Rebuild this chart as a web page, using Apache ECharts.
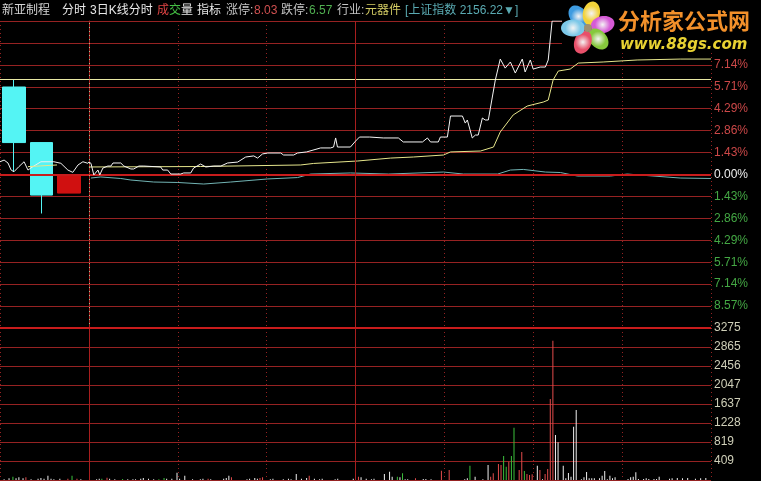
<!DOCTYPE html>
<html><head><meta charset="utf-8">
<script src="https://cdn.jsdelivr.net/npm/echarts/dist/echarts.min.js"></script>
<style>html,body{margin:0;padding:0;background:#000;}#c{width:761px;height:481px;}</style>
</head><body><div id="c"></div>
<script>
// ---------------- DATA ----------------
// intraday minutes (0..240) and % change vs previous close 7.30 (limits 8.03 / 6.57)
const priceMin = [0,0.8,1.9,3.5,4.2,5.4,7.3,8.5,9.3,12.3,13.5,16.2,17.3,19.3,21.2,27.7,28.5,30.4,31.6,35.4,36.6,39.3,40.4,43.1,45.1,48.2,50.9,53.5,57.4,60.5,63.6,65.1,67.0,69.0,74.0,75.1,79.0,80.5,84.0,89.4,93.2,94.4,95.2,95.9,100.9,102.9,104.4,108.3,113.6,119.4,121.3,128.7,130.6,131.8,134.8,135.6,138.3,139.5,144.1,145.2,146.0,147.9,149.1,150.2,151.8,152.9,154.1,154.9,156.8,158.7,160.6,162.6,164.5,167.2,168.3,170.3,171.4,174.1,176.1,177.2,178.7,240];
const pricePct = [0.81,0.73,-0.03,0.29,-0.03,0.42,0.55,0.55,0.75,0.75,0.55,0.36,0.36,0.55,0.55,0.49,0.29,0.29,0.03,0.03,0.10,0.10,0.42,0.68,0.49,0.55,0.55,0.75,0.81,1.14,1.21,1.07,1.34,1.40,1.40,1.27,1.27,1.40,1.47,1.73,1.73,1.79,2.38,1.79,1.79,2.18,2.44,2.44,2.38,2.38,2.12,2.12,2.38,2.12,2.12,2.44,2.44,3.81,3.81,3.35,3.55,2.38,2.57,2.57,3.68,3.55,3.55,4.33,6.16,7.52,6.93,7.33,6.61,7.52,6.68,7.46,6.87,7.00,7.00,7.46,10.00,10.00];
const avgMin = [0,43.1,81.7,86.7,103.7,116.4,125.2,136.8,139.5,151.1,156.1,158.7,163.7,169.1,175.3,177.2,179.1,181.1,185.7,188.8,198.4,211.5,228.1,240];
const avgPct = [0.49,0.52,0.62,0.72,0.88,1.07,1.14,1.27,1.47,1.53,1.79,2.77,3.88,4.46,4.72,4.85,6.16,6.74,6.87,7.26,7.33,7.46,7.52,7.52];
const idxMin = [0.8,4.6,12.3,16.2,25.0,34.3,44.3,54.7,69.0,80.5,85.5,100.9,115.6,136.8,144.5,157.7,162.6,167.6,176.1,181.9,188.5,201.2,207.7,215.4,228.1,240];
const idxPct = [-0.23,-0.16,-0.26,-0.36,-0.49,-0.52,-0.62,-0.49,-0.29,-0.20,0.03,0.10,0.03,0.16,0.03,0.03,0.29,0.33,0.16,0.13,-0.10,-0.10,0.03,-0.07,-0.23,-0.26];
// compressed 3-day line (negative minutes = previous-days strip)
const miniMin = [-34.29,-32.7,-31.2,-30.0,-28.9,-27.0,-25.0,-23.5,-21.6,-18.5,-13.5,-10.8,-8.1,-6.2,-4.2,-2.3,-0.4,0];
const miniPct = [0.83,0.94,0.75,0.29,0.18,0.51,0.83,0.29,0.51,0.83,0.83,0.73,0.29,0.14,0.62,0.83,0.73,0.81];
const miniAvgMin = [-23.5,-18.5,-12.3];
const miniAvgPct = [0.51,0.56,0.62];
const prevHighPct = 6.19;
// 3-day candles (% vs prev close)
const candleDays = ['D-3','D-2','D-1'];
const candleOpen = [5.70, 2.08, -1.21];
const candleClose = [2.08, -1.34, 0.00];
const candleLow = [0.18, -2.54, -1.21];
const candleHigh = [6.19, 2.08, 0.00];
// volume
const volMin = [-32.7,-30.8,-29.3,-28.1,-27.0,-25.4,-24.3,-22.3,-19.6,-18.5,-17.3,-15.8,-14.6,-13.5,-11.2,-8.1,-6.5,-4.6,-3.1,
3,4,5,7,8,10,13,15,17,18,20,21,23,25,27,29,30,32,34,35,37,40,43,44,46,47,52,53,54,55,61,62,64,65,66,67,70,71,75,77,78,80,82,84,85,87,89,90,95,96,102,104,105,107,109,110,
114,116,117,119,120,121,122,123,126,129,130,132,136,139,145,146,147,149,152,154,155,156,158,159,160,161,162,163,164,166,167,168,169,170,171,173,174,175,176,177,178,179,180,181,183,184,185,186,187,188,190,191,192,193,194,195,197,198,199,200,201,202,203,208,209,210,211,212,214,215,216,218,219,220,224,225,227,229,231,234,236,238];
const volVal = [15,36,72,36,57,36,57,15,28,43,28,93,28,15,28,28,93,28,15,
15,28,28,50,28,15,22,15,15,15,28,43,28,15,15,43,28,28,158,28,93,15,15,28,28,15,28,43,93,57,15,28,43,28,43,57,15,28,15,28,15,129,28,43,93,28,15,28,15,28,28,72,57,28,15,28,
129,180,72,72,57,144,15,15,36,22,22,15,201,216,15,36,309,72,15,323,72,144,345,323,517,287,395,517,1127,216,603,194,129,108,122,309,216,15,129,237,1746,3002,970,812,309,36,151,72,1149,1509,15,57,172,36,36,36,36,93,194,15,93,36,57,22,57,72,165,22,22,36,22,22,22,72,28,36,43,36,43,28,36,43];
const volDir = ('wwgwwwrwwwwwwwwrgrw' +
  'wwgrwwgwwwwwwwggwwwwwwwwrwwwwrwwwwrrwwwwwwwwrwwwwwwrwwww' +
  'wwwgwgwwrwwwrrwwgwwwrrrrggrggrrgrrrwrwrrrrwwwwwwwwwwwwwwwwwwwwwwwwwwwwwwwwwwwwwwww').split('');
const volTickLabels = ['', '409', '819', '1228', '1637', '2047', '2456', '2865', '3275'];
const titleParts = [
  ['新亚制程', 2, '#d4d4d4'], ['分时', 62, '#e8e8e8'], ['3日K线分时', 90, '#e8e8e8'],
  ['成', 157, '#e04444'], ['交', 169, '#44c044'], ['量', 181, '#e8e8e8'], ['指标', 197, '#e8e8e8'],
  ['涨停:', 226, '#c4c4c4'], ['8.03', 254, '#d05050'], ['跌停:', 281, '#c4c4c4'], ['6.57', 309, '#50b050'],
  ['行业:', 337, '#c4c4c4'], ['元器件', 365, '#d4cc64'], ['[上证指数 2156.22▼]', 405, '#5aaab2']
];

// ---------------- CHART ----------------
const SEC = 240 / 7;
const GRID_RED = '#962222';
const pairs = (xs, ys) => xs.map((x, i) => [x, ys[i]]);
const dirColor = { r: '#e44c4c', g: '#3cc03c', w: '#f0f0f0' };
const FONT = "'Liberation Sans', Arial, 'Noto Sans CJK SC', sans-serif";

const chart = echarts.init(document.getElementById('c'), null, { width: 761, height: 481 });

const xCommon = (gi) => ({
  type: 'value', gridIndex: gi, min: -SEC, max: 240, interval: SEC,
  axisLine: { show: false }, axisTick: { show: false }, axisLabel: { show: false },
  splitLine: { show: true, lineStyle: { color: GRID_RED, type: [1, 3], width: 1 } }
});

const graphic = [];
titleParts.forEach(p => graphic.push({
  type: 'text', x: p[1], y: 11, z: 100,
  style: { text: p[0], fill: p[2], font: "12px 'Liberation Sans','Noto Sans CJK SC',sans-serif", textVerticalAlign: 'middle' }
}));
// watermark logo
graphic.push({ type: 'rect', z: 99, shape: { x: 562, y: 1, width: 198, height: 52 }, style: { fill: '#000' } });
[[-129, '#3d9be0'], [-77, '#f2d23a'], [-13, '#d65ad6'], [47, '#86c83c'], [110, '#e8506a'], [180, '#7cc8e8']].forEach(p => {
  const a = p[0] * Math.PI / 180;
  graphic.push({
    type: 'ellipse', z: 100, x: 588 + 15 * Math.cos(a), y: 28 + 15 * Math.sin(a), rotation: -a,
    shape: { cx: 0, cy: 0, rx: 12, ry: 8.5 },
    style: { fill: new echarts.graphic.RadialGradient(0.5, 0.5, 0.6, [{ offset: 0, color: '#f4f4f4' }, { offset: 0.75, color: p[1] }, { offset: 1, color: p[1] }]) }
  });
});
graphic.push({ type: 'circle', z: 101, shape: { cx: 588, cy: 28, r: 4 }, style: { fill: '#a09070' } });
graphic.push({ type: 'text', z: 101, x: 618, y: 21, style: { text: '分析家公式网', font: "bold 22px 'Noto Sans CJK SC'", textVerticalAlign: 'middle',
  fill: '#f2902a', shadowColor: '#000', shadowBlur: 2, shadowOffsetX: 1, shadowOffsetY: 1 } });
graphic.push({ type: 'text', z: 101, x: 620, y: 45, style: { text: 'www.88gs.com', font: "italic bold 15px 'DejaVu Sans'", textVerticalAlign: 'middle', fill: '#e8d232' } });

const option = {
  backgroundColor: '#000',
  animation: false,
  graphic: graphic,
  grid: [
    { left: 0, top: 21, width: 711, height: 307 },
    { left: 0, top: 328, width: 711, height: 152 },
    { left: 0, top: 21, width: 83, height: 307 }
  ],
  xAxis: [xCommon(0), xCommon(1), { type: 'category', gridIndex: 2, data: candleDays, show: false }],
  yAxis: [
    { type: 'value', gridIndex: 0, position: 'right', min: -10, max: 10, interval: 10 / 7,
      axisLine: { show: true, lineStyle: { color: '#a81e1e' } }, axisTick: { show: false },
      splitLine: { lineStyle: { color: GRID_RED, width: 1 } },
      axisLabel: { margin: 3,
        formatter: v => {
          if (v > 8 || v < -9.9) return '';
          if (Math.abs(v) < 1e-6) return '{z|0.00%}';
          return (v > 0 ? '{p|' : '{n|') + Math.abs(v).toFixed(2) + '%}';
        },
        rich: {
          p: { color: '#cc4848', fontSize: 12, fontFamily: FONT },
          n: { color: '#44a844', fontSize: 12, fontFamily: FONT },
          z: { color: '#f0f0f0', fontSize: 12, fontFamily: FONT }
        } } },
    { type: 'value', gridIndex: 1, position: 'right', min: 0, max: 3275, interval: 3275 / 8,
      axisLine: { show: true, lineStyle: { color: '#a81e1e' } }, axisTick: { show: false },
      splitLine: { lineStyle: { color: GRID_RED, width: 1 } },
      axisLabel: { margin: 3, color: '#cfcfb8', fontSize: 12, fontFamily: FONT,
        formatter: v => volTickLabels[Math.round(v / (3275 / 8))] || '' } },
    { type: 'value', gridIndex: 2, min: -10, max: 10, show: false, splitLine: { show: false } }
  ],
  series: [
    { type: 'candlestick', xAxisIndex: 2, yAxisIndex: 2, barWidth: 23, z: 1,
      data: candleDays.map((d, i) => [candleOpen[i], candleClose[i], candleLow[i], candleHigh[i]]),
      itemStyle: { color: '#d01010', color0: '#54f4f4', borderColor: '#d01010', borderColor0: '#54f4f4', borderWidth: 1 } },
    { type: 'line', name: 'guides', xAxisIndex: 0, yAxisIndex: 0, data: [], z: 2,
      markLine: { silent: true, symbol: 'none', label: { show: false }, animation: false,
        data: [
          { yAxis: 0, lineStyle: { color: '#c81c1c', width: 2, type: 'solid' } },
          { yAxis: prevHighPct, lineStyle: { color: '#e8e8a4', width: 1, type: 'solid' } },
          { xAxis: -SEC, lineStyle: { color: '#a81e1e', width: 1, type: 'solid' } },
          { xAxis: 3 * SEC, lineStyle: { color: '#a81e1e', width: 1, type: 'solid' } },
          { xAxis: 0, lineStyle: { color: '#98c898', width: 1, type: [1, 3] } }
        ] } },
    { type: 'line', xAxisIndex: 0, yAxisIndex: 0, z: 3, data: pairs(miniMin, miniPct), showSymbol: false, lineStyle: { color: '#f0f0f0', width: 1 } },
    { type: 'line', xAxisIndex: 0, yAxisIndex: 0, z: 3, data: pairs(miniAvgMin, miniAvgPct), showSymbol: false, lineStyle: { color: '#e6e68c', width: 1 } },
    { type: 'line', xAxisIndex: 0, yAxisIndex: 0, z: 4, data: pairs(idxMin, idxPct), showSymbol: false, lineStyle: { color: '#72b4b4', width: 1 } },
    { type: 'line', xAxisIndex: 0, yAxisIndex: 0, z: 4, data: pairs(avgMin, avgPct), showSymbol: false, lineStyle: { color: '#e6e68c', width: 1 } },
    { type: 'line', xAxisIndex: 0, yAxisIndex: 0, z: 5, data: pairs(priceMin, pricePct), showSymbol: false, lineStyle: { color: '#f4f4f4', width: 1 } },
    { type: 'bar', xAxisIndex: 1, yAxisIndex: 1, barWidth: 1, z: 3,
      data: volMin.map((m, i) => ({ value: [m, volVal[i]], itemStyle: { color: dirColor[volDir[i]] } })),
      markLine: { silent: true, symbol: 'none', label: { show: false }, animation: false,
        data: [
          { yAxis: 3275, lineStyle: { color: '#c81c1c', width: 2, type: 'solid' } },
          { xAxis: -SEC, lineStyle: { color: '#a81e1e', width: 1, type: 'solid' } },
          { xAxis: 3 * SEC, lineStyle: { color: '#a81e1e', width: 1, type: 'solid' } }
        ] } }
  ]
};
chart.setOption(option);
</script></body></html>
